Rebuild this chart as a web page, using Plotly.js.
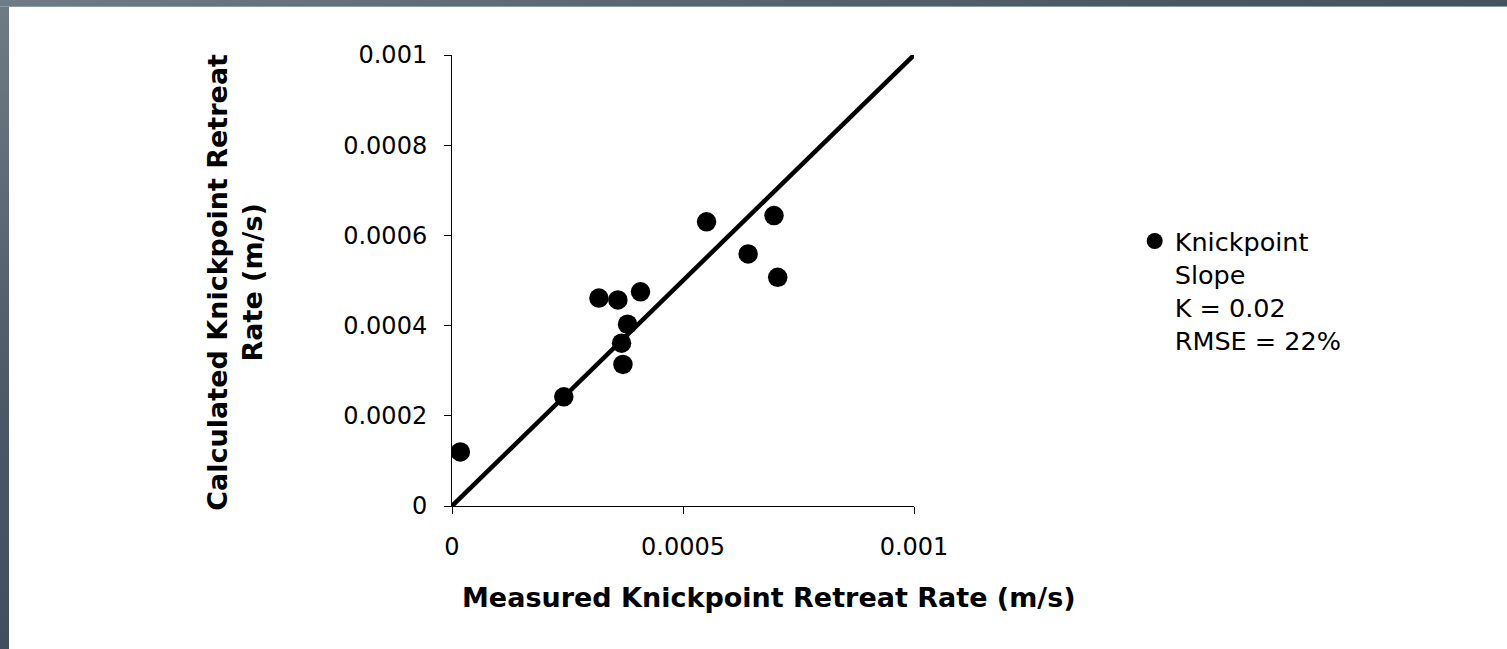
<!DOCTYPE html>
<html>
<head>
<meta charset="utf-8">
<script src="https://cdn.plot.ly/plotly-3.0.1.min.js"></script>
<style>
  html, body { margin: 0; padding: 0; width: 1507px; height: 649px; overflow: hidden; }
  body { background: linear-gradient(160deg, #6f7b85 0%, #4a5764 35%, #2c3a47 100%); position: relative; }
  #topline { position: absolute; left: 0; top: 6px; width: 1507px; height: 1px; background: #8d99a3; }
  #chart { position: absolute; left: 9px; top: 7px; width: 1498px; height: 642px; background: #ffffff; }
</style>
</head>
<body>
<div id="topline"></div>
<div id="chart"></div>
<script>
// Measured vs calculated knickpoint retreat rates (m/s)
const measured   = [0.000018, 0.000242, 0.000318, 0.000359, 0.000408, 0.000380, 0.000367, 0.000370, 0.000551, 0.000641, 0.000697, 0.000705];
const calculated = [0.000120, 0.000242, 0.000461, 0.000457, 0.000475, 0.000403, 0.000361, 0.000314, 0.000630, 0.000559, 0.000644, 0.000507];

// 1:1 reference line
const oneToOneX = [0, 0.001];
const oneToOneY = [0, 0.001];

const xTickVals = [0, 0.0005, 0.001];
const xTickText = ['0', '0.0005', '0.001'];
const yTickVals = [0, 0.0002, 0.0004, 0.0006, 0.0008, 0.001];
const yTickText = ['0', '0.0002', '0.0004', '0.0006', '0.0008', '0.001'];

const seriesName = 'Knickpoint<br>Slope<br>K = 0.02<br>RMSE = 22%';
const xTitle = 'Measured Knickpoint Retreat Rate (m/s)';
const yTitle = 'Calculated Knickpoint Retreat<br>Rate (m/s)';

const FONT = 'DejaVu Sans, Liberation Sans, sans-serif';

const traces = [
  {
    x: oneToOneX, y: oneToOneY, mode: 'lines', type: 'scatter',
    line: { color: '#000000', width: 4.5 }, showlegend: false, hoverinfo: 'skip'
  },
  {
    x: measured, y: calculated, mode: 'markers', type: 'scatter', name: seriesName,
    marker: { color: '#000000', size: 19.5, line: { width: 0 } }
  }
];

const W = 1498, H = 642;
const L = 443.3, R = 592.7, T = 48.3, B = 143.3;
const pw = W - L - R, ph = H - T - B;

const layout = {
  width: W, height: H,
  paper_bgcolor: '#ffffff', plot_bgcolor: '#ffffff',
  margin: { l: L, r: R, t: T, b: B, pad: 0 },
  font: { family: FONT, size: 24, color: '#000000' },
  xaxis: {
    range: [0, 0.001], tickvals: xTickVals, ticktext: xTickText,
    showgrid: false, zeroline: false, showline: true, linecolor: '#000000', linewidth: 1,
    ticks: 'outside', ticklen: 7, tickcolor: '#000000', tickwidth: 1,
    tickfont: { family: FONT, size: 24, color: '#000000' }, ticklabelstandoff: 12,
    fixedrange: true
  },
  yaxis: {
    range: [0, 0.001], tickvals: yTickVals, ticktext: yTickText,
    showgrid: false, zeroline: false, showline: true, linecolor: '#000000', linewidth: 1,
    ticks: 'outside', ticklen: 7, tickcolor: '#000000', tickwidth: 1,
    tickfont: { family: FONT, size: 24, color: '#000000' }, ticklabelstandoff: 12,
    fixedrange: true
  },
  showlegend: true,
  legend: {
    x: (1166 - 40 - L) / pw, xanchor: 'left',
    y: (H - B - 211) / ph, yanchor: 'top',
    valign: 'top', bgcolor: 'rgba(0,0,0,0)', borderwidth: 0,
    font: { family: FONT, size: 25.5, color: '#000000' }
  },
  annotations: [
    {
      text: '<b>' + xTitle + '</b>', xref: 'paper', yref: 'paper',
      x: (760 - L) / pw, y: (H - B - 590) / ph, xanchor: 'center', yanchor: 'middle',
      showarrow: false, font: { family: FONT, size: 27, color: '#000000' }
    },
    {
      text: '<b>' + yTitle + '</b>', xref: 'paper', yref: 'paper',
      x: (226 - L) / pw, y: (H - B - 275) / ph, xanchor: 'center', yanchor: 'middle',
      textangle: -90, showarrow: false, font: { family: FONT, size: 27, color: '#000000' }
    }
  ]
};

Plotly.newPlot('chart', traces, layout, { displayModeBar: false, staticPlot: true });
</script>
</body>
</html>
